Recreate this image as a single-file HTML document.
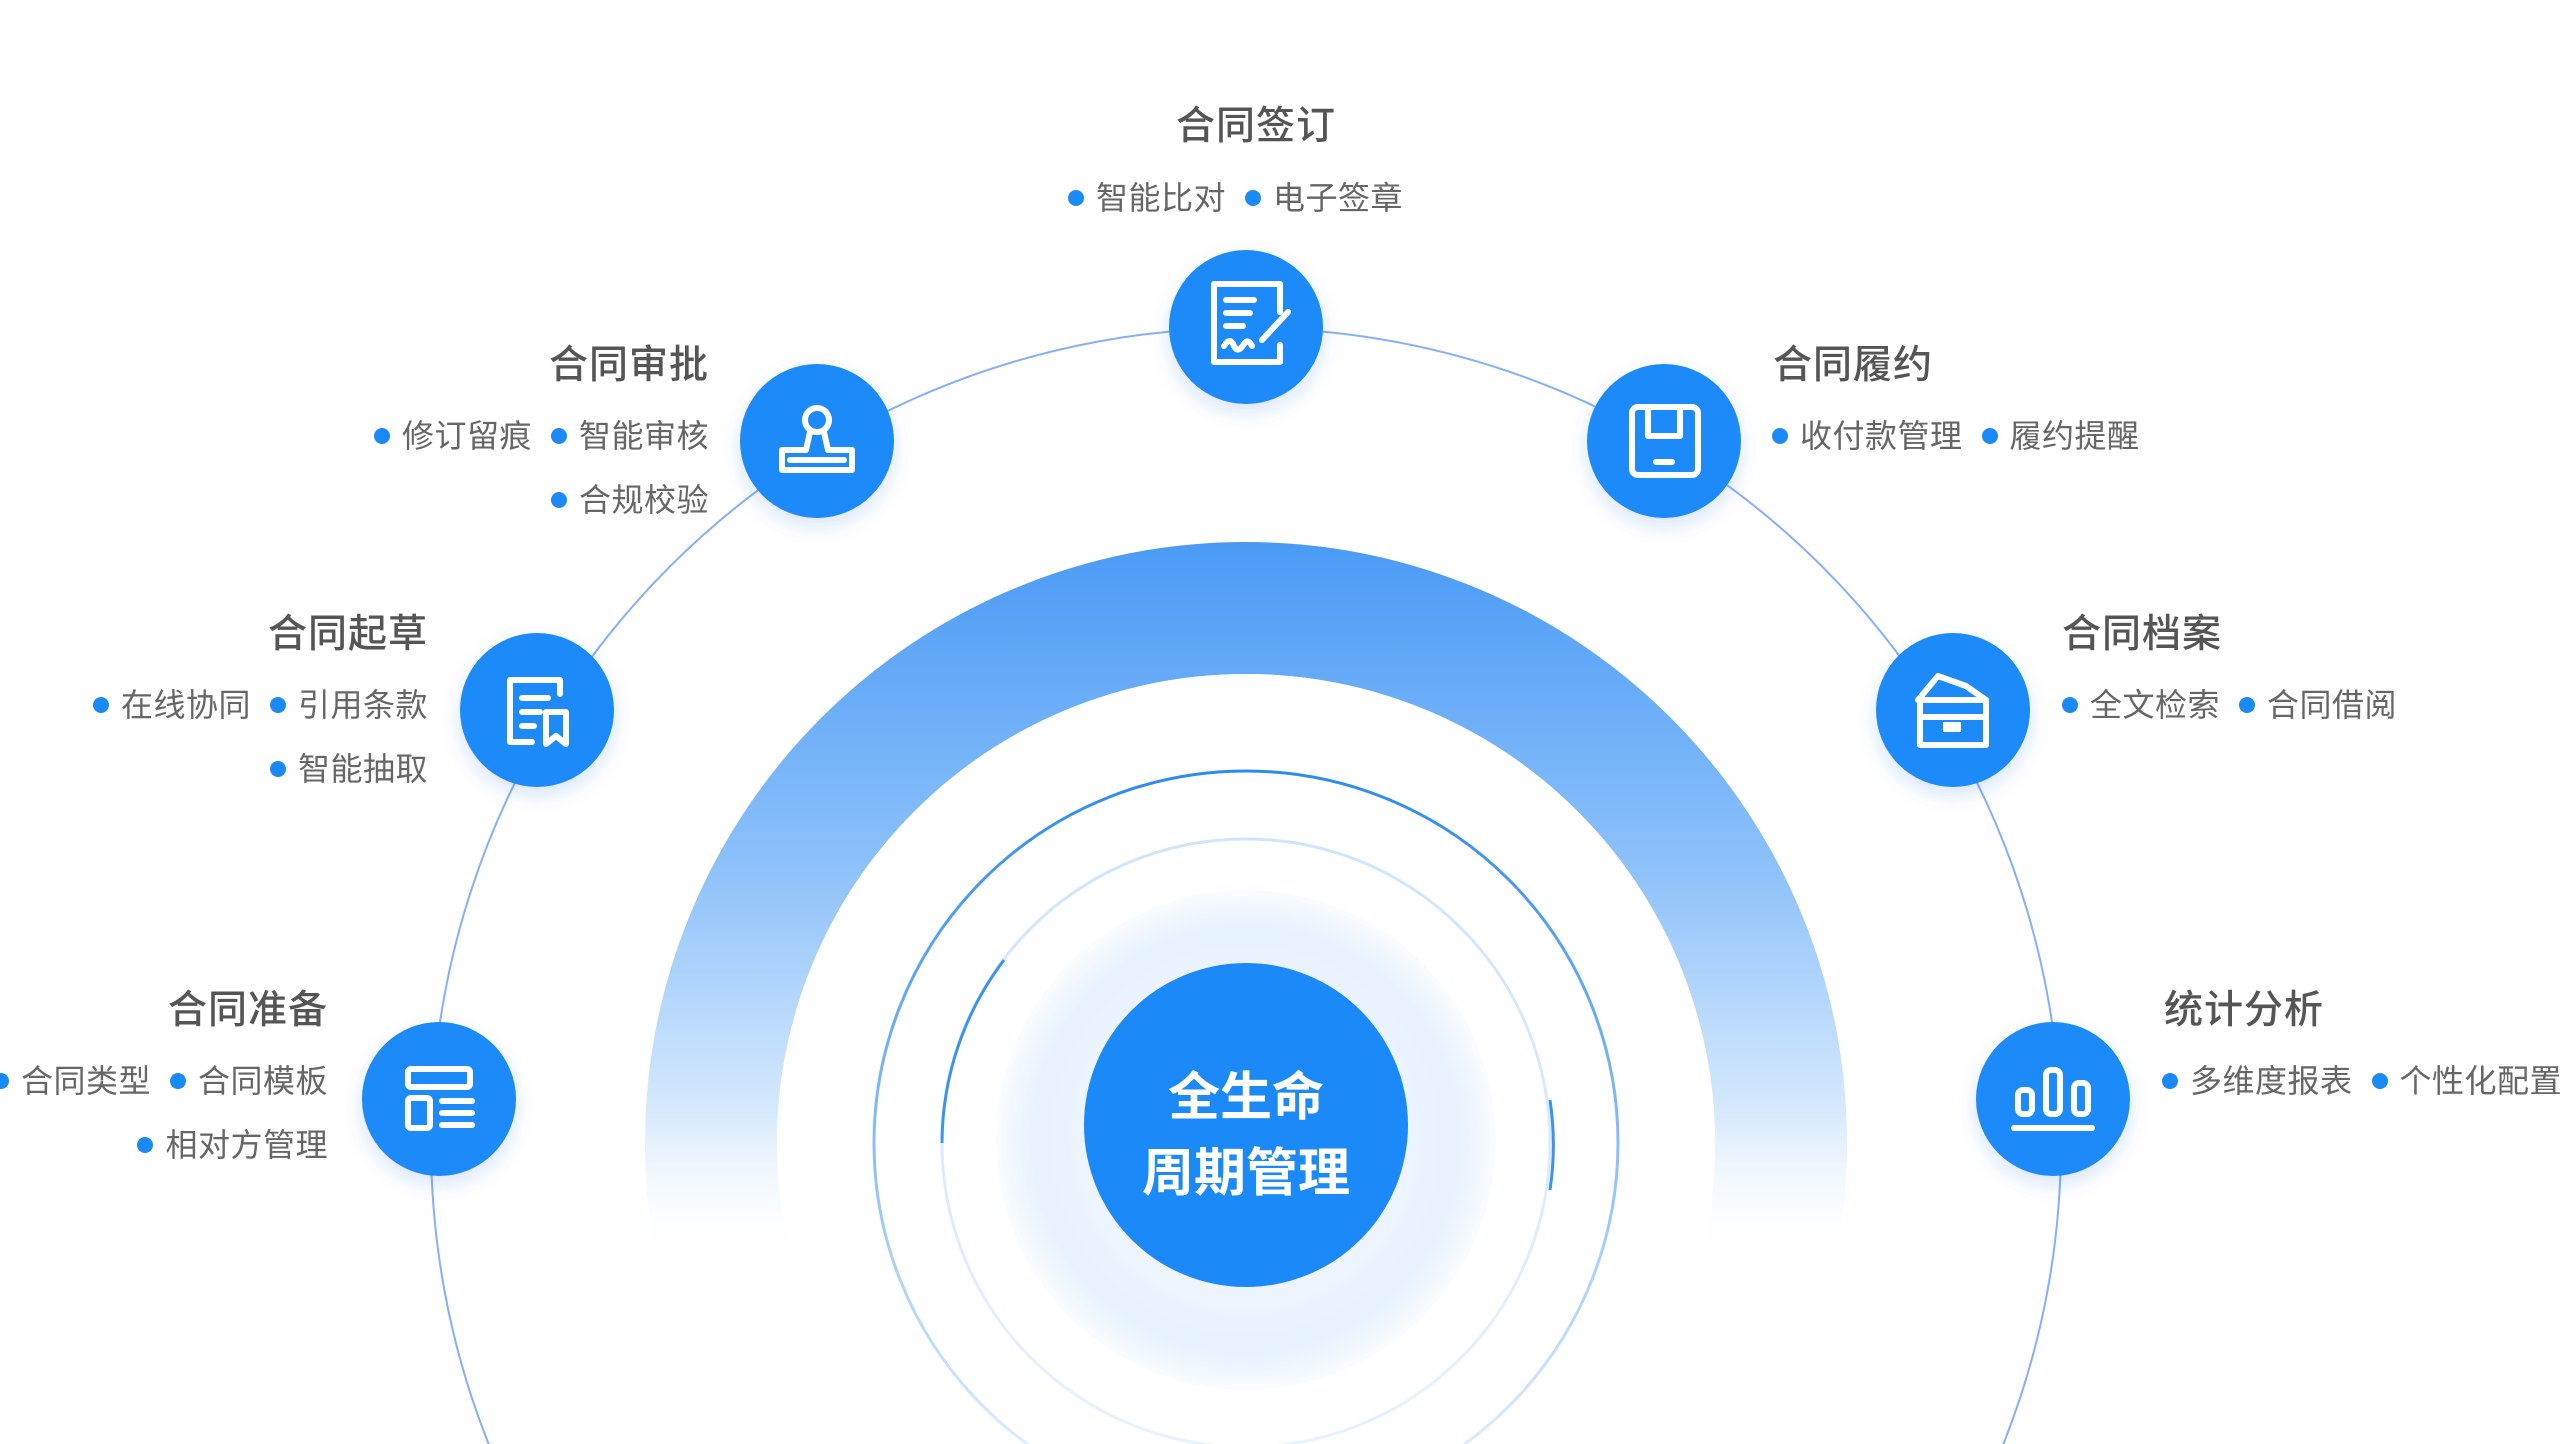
<!DOCTYPE html>
<html><head><meta charset="utf-8">
<style>
html,body{margin:0;padding:0;background:#fff;width:2560px;height:1444px;overflow:hidden;}
body{position:relative;font-family:"Liberation Sans","Noto Sans CJK SC",sans-serif;}
svg{display:block;}
.t{position:absolute;font-size:39px;line-height:48px;color:#555;font-weight:500;white-space:nowrap;letter-spacing:1px;}
.r{position:absolute;font-size:32px;line-height:40px;color:#666;white-space:nowrap;display:flex;align-items:center;letter-spacing:0.5px;}
.r span{display:inline-flex;align-items:center;}
.r span::before{content:"";width:16px;height:16px;border-radius:50%;background:#1a8af8;display:inline-block;margin-right:12px;}
.r span+span{margin-left:19px;}
.c{position:absolute;color:#fff;font-size:52px;font-weight:bold;text-align:center;line-height:76px;width:400px;left:1046px;top:1060px;}
</style></head><body>
<svg width="2560" height="1444" viewBox="0 0 2560 1444" style="position:absolute;left:0;top:0;overflow:hidden">
<defs>
<clipPath id="cp"><rect x="0" y="0" width="2560" height="1444"/></clipPath>
<linearGradient id="ga" gradientUnits="userSpaceOnUse" x1="0" y1="542" x2="0" y2="1260">
<stop offset="0" stop-color="#4a9af5"/><stop offset="0.45" stop-color="#8cc1fa"/><stop offset="0.8" stop-color="#d8eafd"/><stop offset="1" stop-color="#fff" stop-opacity="0"/>
</linearGradient>
<linearGradient id="gr" gradientUnits="userSpaceOnUse" x1="0" y1="770" x2="0" y2="1444">
<stop offset="0" stop-color="#2a8bf0"/><stop offset="0.5" stop-color="#7fb8f6"/><stop offset="1" stop-color="#dcecfd"/>
</linearGradient>
<linearGradient id="gr2" gradientUnits="userSpaceOnUse" x1="0" y1="840" x2="0" y2="1444">
<stop offset="0" stop-color="#cfe5fc"/><stop offset="1" stop-color="#e6f2fe"/>
</linearGradient>
<radialGradient id="gl" cx="1246" cy="1140" r="250" gradientUnits="userSpaceOnUse">
<stop offset="0.5" stop-color="#f1f5fd"/><stop offset="0.85" stop-color="#e6f2fd"/><stop offset="1" stop-color="#fafcff"/>
</radialGradient>
<filter id="sh" x="-30%" y="-30%" width="160%" height="160%"><feDropShadow dx="0" dy="8" stdDeviation="9" flood-color="#1a6af0" flood-opacity="0.18"/></filter>
</defs>
<g clip-path="url(#cp)">
<circle cx="1246" cy="1143" r="815" fill="none" stroke="#85aefc" stroke-width="2"/>
<circle cx="1246" cy="1143" r="535" fill="none" stroke="url(#ga)" stroke-width="132"/>
<circle cx="1246" cy="1143" r="469" fill="#fff"/>
<circle cx="1246" cy="1143" r="372" fill="none" stroke="url(#gr)" stroke-width="3"/>
<circle cx="1246" cy="1143" r="304" fill="#fff" stroke="url(#gr2)" stroke-width="3"/>
<path d="M 1004 960 A 304 304 0 0 0 942 1143" fill="none" stroke="#3b93f0" stroke-width="3"/>
<path d="M 1550 1100 A 304 304 0 0 1 1550 1190" fill="none" stroke="#3b93f0" stroke-width="3"/>
<circle cx="1246" cy="1140" r="250" fill="url(#gl)"/>
</g>
<circle cx="1246" cy="1125" r="162" fill="#1b8af8"/>
<g fill="#1b8af8" filter="url(#sh)">
<circle cx="1246" cy="327" r="77"/>
<circle cx="817" cy="441" r="77"/>
<circle cx="537" cy="710" r="77"/>
<circle cx="439" cy="1099" r="77"/>
<circle cx="1664" cy="441" r="77"/>
<circle cx="1953" cy="710" r="77"/>
<circle cx="2053" cy="1099" r="77"/>
</g>
<g fill="none" stroke="#fff" stroke-width="6" stroke-linecap="round" stroke-linejoin="round">
<path d="M1280 312 V 284 H 1214 V 362 H 1280 V 345"/>
<path d="M1226 300 H1254 M1226 313 H1250 M1226 326 H1243"/>
<path d="M1262 340 L1288 312"/>
<path d="M1224 346 q6 -10 10 0 q4 8 10 -2 q4 -6 8 2"/>
<circle cx="817" cy="420" r="12"/>
<path d="M810 432 L806 450 H782 V470 H852 V450 H828 L824 432"/>
<path d="M790 460 H844"/>
<path d="M560 694 V680 H510 V742 H532"/>
<path d="M522 698 H548 M522 712 H540 M522 726 H534"/>
<path d="M546 712 H566 V744 L556 736 L546 744 Z"/>
<rect x="408" y="1069" width="62" height="18" rx="3"/>
<rect x="408" y="1098" width="22" height="30" rx="3"/>
<path d="M442 1101 H472 M442 1113 H472 M442 1125 H472"/>
<rect x="1632" y="407" width="66" height="68" rx="6"/>
<path d="M1648 410 V436 H1680 V410"/>
<path d="M1656 462 H1672"/>
<path d="M1918 700 L1938 676 L1966 686 L1986 700"/>
<path d="M1920 700 H1986 V745 H1920 Z"/>
<path d="M1920 717 H1986"/>
<rect x="1943" y="722" width="18" height="10" fill="#fff" stroke="none"/>
<rect x="2018" y="1090" width="14" height="24" rx="5"/>
<rect x="2046" y="1070" width="14" height="44" rx="5"/>
<rect x="2074" y="1083" width="14" height="31" rx="5"/>
<path d="M2014 1128 H2092"/>
</g>
</svg>

<div class="c">全生命<br>周期管理</div>

<div class="t" style="left:1176px;top:103px">合同签订</div>
<div class="r" style="left:1068px;top:178px"><span>智能比对</span><span>电子签章</span></div>

<div class="t" style="right:1851px;top:342px">合同审批</div>
<div class="r" style="right:1851px;top:416px"><span>修订留痕</span><span>智能审核</span></div>
<div class="r" style="right:1851px;top:480px"><span>合规校验</span></div>

<div class="t" style="right:2132px;top:611px">合同起草</div>
<div class="r" style="right:2132px;top:685px"><span>在线协同</span><span>引用条款</span></div>
<div class="r" style="right:2132px;top:749px"><span>智能抽取</span></div>

<div class="t" style="right:2232px;top:987px">合同准备</div>
<div class="r" style="right:2232px;top:1061px"><span>合同类型</span><span>合同模板</span></div>
<div class="r" style="right:2232px;top:1125px"><span>相对方管理</span></div>

<div class="t" style="left:1773px;top:342px">合同履约</div>
<div class="r" style="left:1772px;top:416px"><span>收付款管理</span><span>履约提醒</span></div>

<div class="t" style="left:2062px;top:611px">合同档案</div>
<div class="r" style="left:2062px;top:685px"><span>全文检索</span><span>合同借阅</span></div>

<div class="t" style="left:2164px;top:987px">统计分析</div>
<div class="r" style="left:2162px;top:1061px"><span>多维度报表</span><span>个性化配置</span></div>
</body></html>
